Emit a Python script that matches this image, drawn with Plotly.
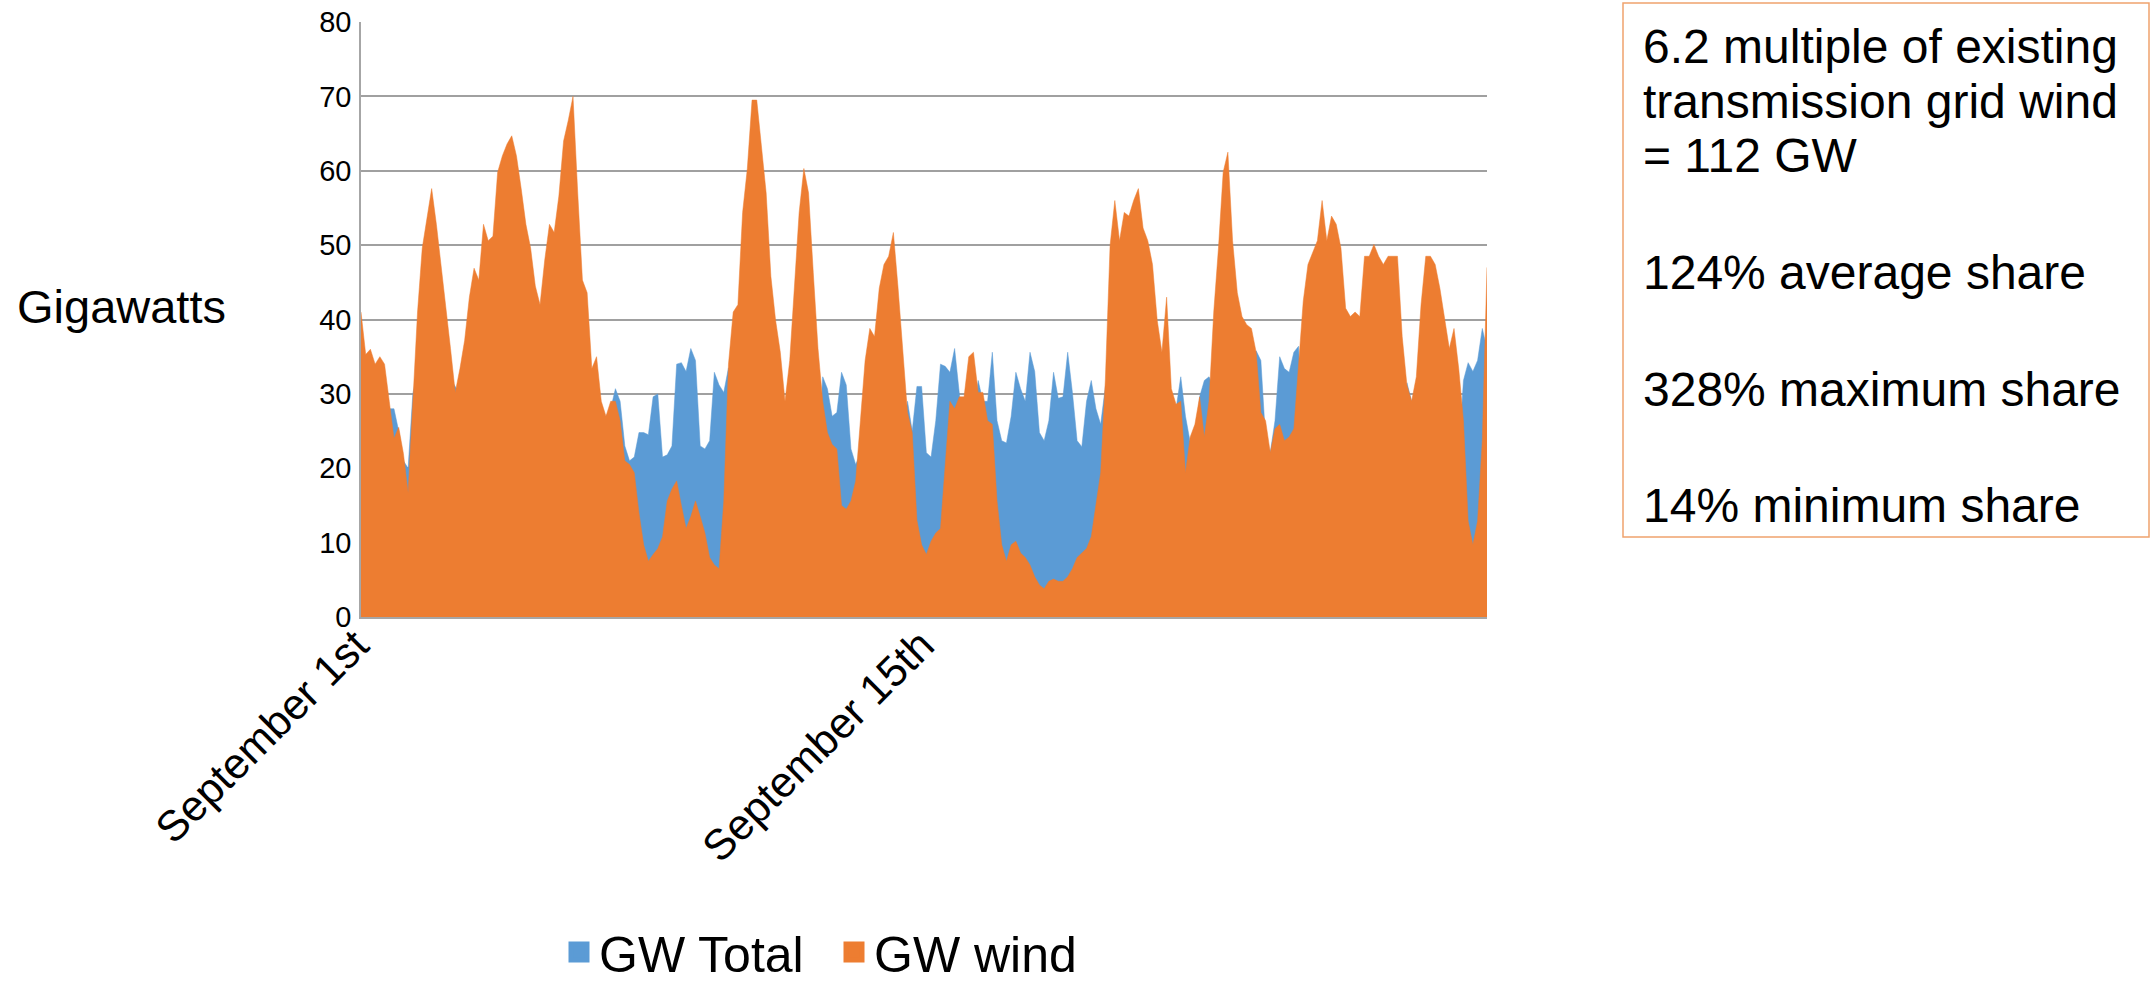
import plotly.graph_objects as go

# ---------------- data (3-hourly samples, September) ----------------
hours = list(range(0, 720, 3))  # hour index from Sept 1st 00:00

gw_wind = [
    41, 35.3, 36, 34, 35, 34, 29, 24,
    25.5, 22, 16.7, 29, 41, 49.6, 53.9, 57.6,
    52.8, 47.4, 41.8, 36.1, 30.2, 33.4, 37.2, 43,
    46.9, 45.3, 52.8, 50.6, 51.2, 59.8, 62, 63.6,
    64.7, 62, 57.6, 52.8, 49.6, 44.5, 42, 48,
    52.8, 51.7, 56.6, 64, 66.8, 70, 57, 45.3,
    43.6, 33.4, 35, 29, 27, 29, 29, 26.4,
    21, 20.5, 19.4, 14, 9.7, 7.5, 8.4, 9.2,
    10.8, 15.6, 17.2, 18.3, 15, 11.9, 13.5, 15.6,
    13.5, 11.3, 8, 7, 6.5, 15.6, 34, 41,
    42, 54.4, 60.3, 69.5, 69.5, 63, 57, 45.8,
    39.9, 35.6, 29, 34.5, 45.3, 54.4, 60.3, 57,
    46.3, 36.1, 29, 24.8, 23.2, 22.6, 15, 14.5,
    15.6, 18.3, 26.4, 34.5, 38.8, 37.7, 44.2, 47.4,
    48.5, 51.7, 44.2, 36.1, 27.5, 24.8, 13, 9.7,
    8.4, 10.2, 11.3, 11.9, 20.5, 29, 28, 29.6,
    29.6, 35, 35.6, 30.2, 30.2, 26.4, 25.9, 15.6,
    9.7, 7.5, 9.7, 10.2, 8.6, 8, 7, 5.4,
    4.3, 3.8, 4.8, 5.1, 4.8, 4.8, 5.4, 6.5,
    8, 8.6, 9.2, 10.8, 15, 19.4, 32, 50,
    56, 50.6, 54.4, 53.9, 56, 57.6, 52.3, 50.6,
    47.4, 39.9, 35.6, 43, 30.7, 28.6, 29, 19.4,
    24.2, 25.9, 29.6, 24.2, 29, 41, 49.6, 59.8,
    62.5, 50.6, 43.6, 40.4, 39.3, 38.8, 35.6, 27.5,
    26.4, 22.1, 25.3, 25.9, 23.7, 24.2, 25.3, 34.5,
    42.5, 47.4, 49, 50.6, 56, 50.6, 53.9, 52.8,
    49.6, 41.5, 40.4, 41, 40.4, 48.5, 48.5, 50.1,
    48.5, 47.4, 48.5, 48.5, 48.5, 37.7, 31.2, 29,
    32.3, 42, 48.5, 48.5, 47.4, 44.2, 39.9, 36.1,
    38.8, 33.4, 26.4, 12.9, 9.7, 12.9, 23.7, 47,
]

gw_total = [
    24, 21, 20, 23, 25, 25, 28, 28,
    25, 21, 20, 30, 33, 31, 35, 30,
    24, 22, 26, 32, 31, 30, 34, 30,
    24, 22, 26, 33, 31, 30, 35, 31,
    24, 22, 26, 33, 31, 30, 35, 31,
    24, 22, 26, 33, 31, 30, 34, 30,
    24, 22, 22, 26, 27, 28, 30.7, 29,
    23, 21, 21.5, 24.8, 24.8, 24.5, 29.6, 30,
    21.5, 21.8, 23, 34, 34.2, 33, 36.1, 34.5,
    23, 22.6, 23.7, 32.9, 31.2, 30.2, 33.5, 30,
    24, 22, 26, 33, 31, 30, 35, 31,
    24, 22, 26, 33, 31, 30, 35, 31,
    24, 22, 32.3, 30.7, 27, 27.5, 32.9, 31.2,
    22.6, 20.5, 22, 27, 28, 27, 30, 29,
    23, 21, 20, 23, 29, 25, 31, 31,
    22.1, 21.5, 26.4, 34, 33.7, 32.9, 36.1, 29.6,
    24, 22, 27, 31.8, 29, 29, 35.6, 26.4,
    23.7, 23.4, 27, 32.9, 30.7, 29, 35.6, 33,
    24.8, 23.7, 26.4, 32.9, 29.4, 29.6, 35.6, 30.2,
    23.7, 22.9, 29, 31.8, 28, 25.9, 31, 30,
    24, 22, 23, 27, 28, 27, 30, 29,
    23, 21, 20, 24, 26, 28, 32.3, 27,
    23.5, 22, 29.6, 31.8, 32.3, 31, 35, 31,
    24, 22, 27, 33, 31, 30, 35.8, 34.5,
    24, 22.1, 26.4, 35, 33.4, 32.9, 35.6, 36.4,
    24, 22, 26, 33, 31, 30, 35, 31,
    24, 22, 26, 33, 31, 29, 33, 30,
    24, 22, 23, 27, 28, 27, 31.5, 29,
    23, 21, 20, 24, 25, 25, 30, 30,
    24, 22, 31.8, 34.2, 33, 34.5, 38.8, 36,
]

x_tick_vals = [0, 360]
x_tick_text = ["September 1st", "September 15th"]
y_tick_vals = [0, 10, 20, 30, 40, 50, 60, 70, 80]

series_names = ["GW Total", "GW wind"]
series_colors = ["#5B9BD5", "#ED7D31"]

note_lines = [
    "6.2 multiple of existing",
    "transmission grid wind",
    "= 112 GW",
    "124% average share",
    "328% maximum share",
    "14% minimum share",
]
note_line_y_px = [47, 102, 155, 272, 389, 505]

# ---------------- layout geometry (pixels) ----------------
W, H = 2155, 981
PL, PR, PT, PB = 361, 1487, 22, 617
FONT = "Liberation Sans, Arial, Helvetica, sans-serif"


def px_x(px):
    return (px - PL) / (PR - PL)


def px_y(py):
    return (PB - py) / (PB - PT)


fig = go.Figure()

for name, vals, col in zip(series_names, [gw_total, gw_wind], series_colors):
    fig.add_trace(go.Scatter(
        x=hours, y=vals, name=name, mode="lines",
        line=dict(width=0.5, color=col), fill="tozeroy", fillcolor=col,
        showlegend=False, hoverinfo="x+y",
    ))

# legend entries (square swatches like the original)
for name, col in zip(series_names, series_colors):
    fig.add_trace(go.Scatter(
        x=[None], y=[None], mode="markers", name=name,
        marker=dict(symbol="square", size=16, color=col,
                    line=dict(color=col, width=5)),
        showlegend=True,
    ))

annotations = [
    dict(text="Gigawatts", x=px_x(121), y=px_y(306), xref="paper", yref="paper",
         showarrow=False, xanchor="center", yanchor="middle",
         font=dict(family=FONT, size=47, color="#000000")),
]
for line, ypx in zip(note_lines, note_line_y_px):
    annotations.append(dict(
        text=line, x=px_x(1641), y=px_y(ypx), xref="paper", yref="paper",
        showarrow=False, xanchor="left", yanchor="middle",
        font=dict(family=FONT, size=48, color="#000000"),
    ))

shapes = [
    dict(type="rect", xref="paper", yref="paper",
         x0=px_x(1623), x1=px_x(2149), y0=px_y(3), y1=px_y(537),
         line=dict(color="#F0A36E", width=1.5), fillcolor="rgba(0,0,0,0)"),
]

fig.update_layout(
    width=W, height=H,
    margin=dict(l=PL, r=W - PR, t=PT, b=H - PB, autoexpand=False),
    paper_bgcolor="white", plot_bgcolor="white",
    font=dict(family=FONT, color="#000000"),
    annotations=annotations, shapes=shapes,
    legend=dict(orientation="h", x=px_x(559), xanchor="left",
                y=px_y(952), yanchor="middle",
                entrywidth=230, entrywidthmode="pixels",
                font=dict(family=FONT, size=50, color="#000000"),
                bgcolor="rgba(0,0,0,0)", itemsizing="trace"),
)

fig.update_xaxes(
    range=[0, 717], tickmode="array", tickvals=x_tick_vals, ticktext=x_tick_text,
    tickangle=-45, tickfont=dict(family=FONT, size=43, color="#000000"),
    ticklabelshift=-5, ticklabelstandoff=-16,
    showgrid=False, zeroline=False, showline=True, linecolor="#A6A6A6",
    linewidth=1.5, ticks="",
)
fig.update_yaxes(
    range=[0, 80], tickmode="array", tickvals=y_tick_vals,
    tickfont=dict(family=FONT, size=29, color="#000000"),
    ticklabelstandoff=2,
    showgrid=True, gridcolor="#A0A0A0", gridwidth=1.5,
    zeroline=False, showline=True, linecolor="#A6A6A6", linewidth=1.5, ticks="",
)

fig.write_html("out.html", config={"displayModeBar": False},
               post_script="document.body.style.margin='0px';")
